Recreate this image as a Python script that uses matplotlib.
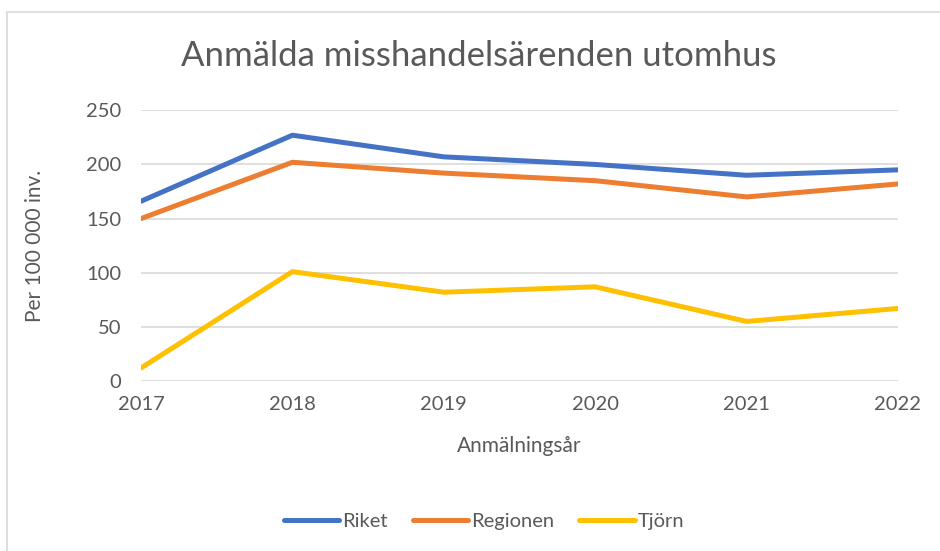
import matplotlib.pyplot as plt
from matplotlib.patches import Rectangle

years = [2017, 2018, 2019, 2020, 2021, 2022]
riket = [166, 227, 207, 200, 190, 195]
regionen = [150, 202, 192, 185, 170, 182]
tjorn = [12, 101, 82, 87, 55, 67]

plt.rcParams["font.family"] = ["Lato", "DejaVu Sans"]
txt = "#595959"

fig = plt.figure(figsize=(9.4, 5.51), dpi=100)
ax = fig.add_axes([141 / 940, 1 - 381 / 551, (898 - 141) / 940, (381 - 110.3) / 551])

ax.plot(years, riket, color="#4472C4", lw=3.6, label="Riket", solid_capstyle="round")
ax.plot(years, regionen, color="#ED7D31", lw=3.6, label="Regionen", solid_capstyle="round")
ax.plot(years, tjorn, color="#FFC000", lw=3.6, label="Tjörn", solid_capstyle="round")

ax.set_xlim(2017, 2022)
ax.set_ylim(0, 250)
ax.set_yticks(range(0, 251, 50))
ax.set_xticks(years)
ax.grid(axis="y", color="#D9D9D9", lw=1.2)
ax.set_axisbelow(True)
for s in ax.spines.values():
    s.set_visible(False)
ax.tick_params(length=0, colors=txt, labelsize=14.5)
ax.tick_params(axis="y", pad=14)
ax.tick_params(axis="x", pad=11)

ax.set_xlabel("Anmälningsår", color=txt, fontsize=15, labelpad=16)
ax.set_ylabel("Per 100 000 inv.", color=txt, fontsize=15, labelpad=30)

fig.text(479 / 940, 1 - 56 / 551, "Anmälda misshandelsärenden utomhus", color=txt,
         fontsize=25, ha="center", va="center")

fig.legend(loc="center", bbox_to_anchor=(484 / 940, 1 - 521 / 551), ncol=3,
           frameon=False, fontsize=14.5, handlelength=2.75, handletextpad=0.15,
           columnspacing=1.25, labelcolor=txt)

fig.patches.append(Rectangle((7 / 940, -0.05), 1.1, 1 - 12 / 551 + 0.05,
                             transform=fig.transFigure, fill=False,
                             edgecolor="#D9D9D9", lw=1.2))

fig.savefig("out.png", dpi=100)
